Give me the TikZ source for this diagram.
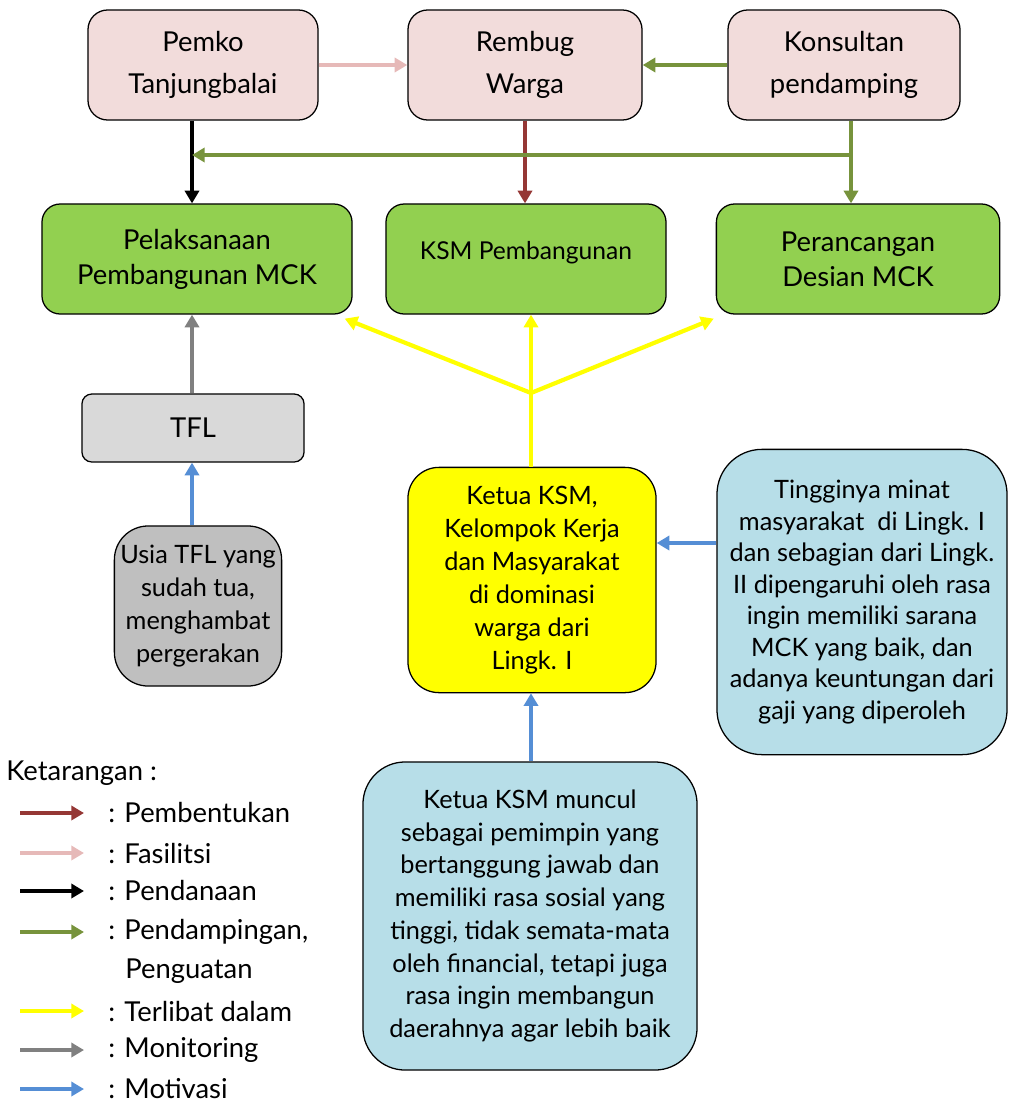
\documentclass[tikz,border=0pt]{standalone}
\usepackage{fontspec}
\setmainfont{Lato}
\usetikzlibrary{positioning,arrows.meta}

\definecolor{merahmuda}{HTML}{F2DCDB}
\definecolor{hijaumuda}{HTML}{92D050}
\definecolor{abumuda}{HTML}{D9D9D9}
\definecolor{abutua}{HTML}{BFBFBF}
\definecolor{birumuda}{HTML}{B7DEE8}
\definecolor{pmerah}{HTML}{953735}
\definecolor{ppink}{HTML}{E6B9B8}
\definecolor{phijau}{HTML}{77933C}
\definecolor{pkuning}{HTML}{FFFF00}
\definecolor{pabu}{HTML}{808080}
\definecolor{pbiru}{HTML}{558ED5}

\tikzstyle{kotak}=[draw=black, line width=0.9pt, align=center, inner sep=1pt]
\tikzstyle{panah}=[line width=2.6pt, -{Triangle[length=9pt,width=10pt]}]
\tikzstyle{teks}=[font=\fontsize{19.5}{30}\selectfont]
\tikzstyle{tekshijau}=[font=\fontsize{19.5}{25}\selectfont]
\tikzstyle{tekskecil}=[font=\fontsize{18}{23.5}\selectfont]

\begin{document}
\begin{tikzpicture}[x=0.025cm, y=-0.025cm]
    \useasboundingbox (0,0) rectangle (1008,1105);

    % baris atas
    \node[kotak, teks, fill=merahmuda, rounded corners=14pt, minimum width=5.75cm, minimum height=2.75cm]
      (pemko) at (203,65) {Pemko\\Tanjungbalai};
    \node[kotak, teks, fill=merahmuda, rounded corners=14pt, minimum width=5.85cm, minimum height=2.75cm]
      (rembug) at (525,65) {Rembug\\Warga};
    \node[kotak, teks, fill=merahmuda, rounded corners=14pt, minimum width=5.8cm, minimum height=2.75cm]
      (konsultan) at (844,65) {Konsultan\\pendamping};

    % baris tengah
    \node[kotak, tekshijau, fill=hijaumuda, rounded corners=13pt, minimum width=7.75cm, minimum height=2.75cm]
      (pelaksanaan) at (197,259) {Pelaksanaan\\Pembangunan MCK};
    \node[kotak, font=\fontsize{17.5}{25}\selectfont, fill=hijaumuda, rounded corners=13pt, minimum width=7cm, minimum height=2.75cm]
      (ksm) at (526,259) {KSM Pembangunan\\[-0.45cm]};
    \node[kotak, tekshijau, fill=hijaumuda, rounded corners=13pt, minimum width=7.08cm, minimum height=2.75cm]
      (perancangan) at (858,259) {Perancangan\\Desian MCK};

    % TFL dan kendala
    \node[kotak, teks, fill=abumuda, rounded corners=7pt, minimum width=5.55cm, minimum height=1.7cm]
      (tfl) at (193,428) {TFL};
    \node[kotak, tekskecil, fill=abutua, rounded corners=24pt, minimum width=4.18cm, minimum height=4cm]
      (usia) at (198,606) {Usia TFL yang\\sudah tua,\\menghambat\\pergerakan};

    % ketua KSM
    \node[kotak, tekskecil, fill=pkuning, rounded corners=22pt, minimum width=6.2cm, minimum height=5.63cm]
      (ketua) at (532,580) {Ketua KSM,\\Kelompok Kerja\\dan Masyarakat\\di dominasi\\warga dari\\Lingk. I};

    % motivasi
    \node[kotak, font=\fontsize{18}{22.4}\selectfont, fill=birumuda, rounded corners=32pt, minimum width=7.25cm, minimum height=7.63cm]
      (minat) at (862,602) {Tingginya minat\\masyarakat\ \ di Lingk. I\\dan sebagian dari Lingk.\\II dipengaruhi oleh rasa\\ingin memiliki sarana\\MCK yang baik, dan\\adanya keuntungan dari\\gaji yang diperoleh};
    \node[kotak, font=\fontsize{18}{23.3}\selectfont, fill=birumuda, rounded corners=30pt, minimum width=8.35cm, minimum height=7.7cm]
      (pemimpin) at (530,916) {Ketua KSM muncul\\sebagai pemimpin yang\\bertanggung jawab dan\\memiliki rasa sosial yang\\tinggi, tidak semata-mata\\oleh financial, tetapi juga\\rasa ingin membangun\\daerahnya agar lebih baik};

    % titik bantu
    \coordinate (kiri) at (192,0);
    \coordinate (kanan) at (851,0);
    \coordinate (cabang) at (851,155);
    \coordinate (pusat) at (531,393);
    \coordinate (motivasi) at (0,543);

    % panah antar kotak
    \draw[panah, ppink] (pemko.east) -- (rembug.west);
    \draw[panah, phijau] (konsultan.west) -- (rembug.east);
    \draw[panah, black] (pemko.south -| kiri) -- (pelaksanaan.north -| kiri);
    \draw[panah, pmerah] (rembug.south) -- (ksm.north -| rembug.south);
    \draw[panah, phijau] (konsultan.south -| kanan) -- (perancangan.north -| kanan);
    \draw[panah, phijau] (cabang) -- (cabang -| kiri);

    % terlibat dalam
    \draw[line width=3pt, pkuning] (ketua.north -| pusat) -- (pusat);
    \draw[panah, line width=3pt, pkuning] (pusat) -- ([xshift=-0.2cm,yshift=-0.1cm]pelaksanaan.south east);
    \draw[panah, line width=3pt, pkuning] (pusat) -- (ksm.south -| pusat);
    \draw[panah, line width=3pt, pkuning] (pusat) -- ([xshift=-0.05cm,yshift=-0.1cm]perancangan.south west);

    % monitoring dan motivasi
    \draw[panah, pabu] (tfl.north -| kiri) -- (pelaksanaan.south -| kiri);
    \draw[panah, pbiru] (usia.north -| kiri) -- (tfl.south -| kiri);
    \draw[panah, pbiru] (minat.west |- motivasi) -- (ketua.east |- motivasi);
    \draw[panah, pbiru] (pemimpin.north -| pusat) -- (ketua.south -| pusat);

    % keterangan
    \node[teks, anchor=west, inner sep=0pt] (judul) at (6,773) {Ketarangan :};
    \foreach \i/\warna/\yy/\isi in {1/pmerah/813/Pembentukan, 2/ppink/853/Fasilitsi,
        3/black/891/Pendanaan, 4/phijau/932/{Pendampingan,}, 5/pkuning/1011/Terlibat dalam,
        6/pabu/1050/Monitoring, 7/pbiru/1089/Motivasi} {
      \coordinate (ka\i) at (20,\yy);
      \coordinate (kb\i) at (84,\yy);
      \draw[panah, \warna, line width=2.4pt] (ka\i) -- (kb\i);
      \node[teks, anchor=west, inner sep=0pt] (ket\i) at (108,\yy) {: \isi};
    }
    \node[teks, anchor=west, inner sep=0pt] (ket4b) at (125,971) {Penguatan};
\end{tikzpicture}
\end{document}
